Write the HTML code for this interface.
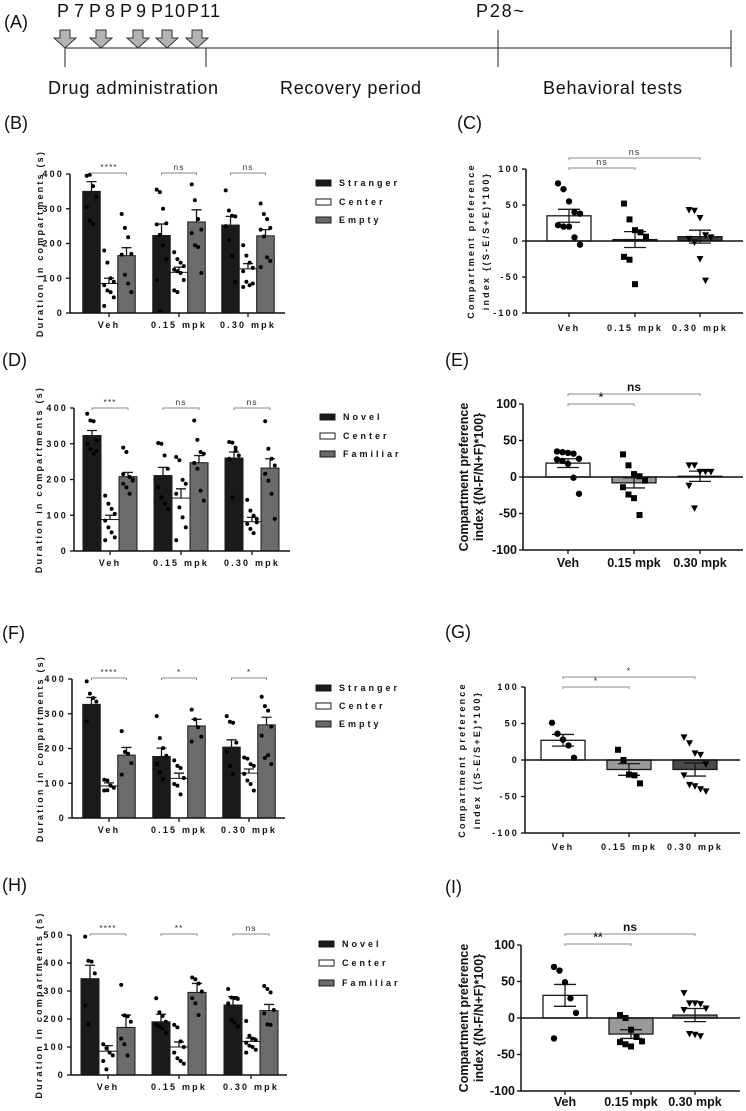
<!DOCTYPE html>
<html><head><meta charset="utf-8">
<style>
html,body{margin:0;padding:0;background:#fff;}
svg{display:block;font-family:"Liberation Sans",Arial,sans-serif;}
.sp{font-weight:bold;font-size:9px;letter-spacing:2.2px;fill:#111;}
.bl{font-weight:bold;font-size:12.5px;fill:#111;}
.pl{font-size:18px;fill:#111;}
.ta{font-family:"Liberation Sans Narrow","Liberation Sans",sans-serif;font-size:18px;fill:#111;}
</style></head>
<body>
<svg id="fig" width="746" height="1111" viewBox="0 0 746 1111" xmlns="http://www.w3.org/2000/svg">
<g>
<text class="pl" x="4" y="28">(A)</text>
<line x1="65" y1="48" x2="731" y2="48" stroke="#222" stroke-width="1"/>
<line x1="65" y1="48" x2="65" y2="67" stroke="#222"/>
<line x1="206" y1="48" x2="206" y2="67" stroke="#222"/>
<line x1="498" y1="30" x2="498" y2="67" stroke="#222"/>
<line x1="731" y1="30" x2="731" y2="67" stroke="#222"/>
<g id="arrows"></g>
<text class="ta" x="57" y="17" textLength="27">P7</text>
<text class="ta" x="89" y="17" textLength="26">P8</text>
<text class="ta" x="120" y="17" textLength="26">P9</text>
<text class="ta" x="151" y="17" textLength="34">P10</text>
<text class="ta" x="187" y="17" textLength="33">P11</text>
<text class="ta" x="476" y="17" textLength="48">P28~</text>
<text class="ta" x="48" y="94" textLength="170">Drug administration</text>
<text class="ta" x="280" y="94" textLength="141">Recovery period</text>
<text class="ta" x="543" y="94" textLength="139">Behavioral tests</text>
</g>
<text class="pl" x="4" y="129">(B)</text>
<text class="pl" x="457" y="129">(C)</text>
<text class="pl" x="2" y="366">(D)</text>
<text class="pl" x="445" y="366">(E)</text>
<text class="pl" x="2" y="639">(F)</text>
<text class="pl" x="445" y="638">(G)</text>
<text class="pl" x="2" y="891">(H)</text>
<text class="pl" x="445" y="893">(I)</text>
</svg>
<script>
// ---------- DATA ----------
const cats = ['Veh', '0.15 mpk', '0.30 mpk'];
const doseDays = ['P7', 'P8', 'P9', 'P10', 'P11'];

const bSeries = ['Stranger', 'Center', 'Empty'];
const bTicks = [0, 100, 200, 300, 400];
const bMeans = [[350, 85, 165], [223, 117, 262], [253, 127, 222]];
const bSems = [[28, 15, 23], [33, 15, 35], [25, 15, 18]];
const bPoints = [
  [[395, 398, 365, 335, 305, 265, 255], [180, 145, 100, 90, 80, 65, 60, 45, 20], [285, 245, 218, 170, 168, 110, 85, 60]],
  [[355, 348, 300, 258, 255, 225, 195, 155, 95, 5], [175, 155, 145, 135, 125, 120, 115, 95, 65, 60], [370, 325, 270, 240, 230, 195, 190, 115]],
  [[353, 295, 280, 278, 250, 210, 165, 90], [195, 165, 145, 130, 120, 90, 80, 85, 75], [315, 285, 270, 245, 240, 220, 160, 150, 132]]
];
const bSig = ['****', 'ns', 'ns'];

const cTicks = [-100, -50, 0, 50, 100];
const cMeans = [35, 2, 6];
const cSems = [9, 11, 9];
const cPoints = [[80, 72, 55, 40, 38, 22, 20, 20, 5, -5], [52, 30, 15, 12, 6, -22, -26, -60], [43, 42, 32, 8, 5, 3, -2, -25, -55]];
const cSig = ['ns', 'ns'];

const dSeries = ['Novel', 'Center', 'Familiar'];
const dTicks = [0, 100, 200, 300, 400];
const dMeans = [[323, 88, 208], [211, 148, 247], [260, 82, 232]];
const dSems = [[14, 12, 12], [23, 26, 20], [17, 12, 26]];
const dPoints = [
  [[384, 365, 363, 310, 300, 285, 272, 280], [155, 132, 118, 104, 85, 66, 52, 38, 30], [289, 277, 207, 197, 188, 178, 160, 200, 215]],
  [[302, 300, 267, 230, 178, 150, 132, 118], [263, 254, 199, 188, 160, 122, 94, 66, 30], [365, 311, 277, 272, 246, 230, 169, 141]],
  [[305, 303, 289, 267, 258, 150, 280], [143, 113, 99, 90, 76, 62, 50, 80], [363, 286, 258, 239, 216, 197, 160, 90]]
];
const dSig = ['***', 'ns', 'ns'];

const eTicks = [-100, -50, 0, 50, 100];
const eMeans = [19, -8, 1];
const eSems = [6, 7, 7];
const ePoints = [[35, 34, 33, 32, 25, 24, 22, 18, -1, -23], [31, 16, 4, 1, -5, -14, -24, -29, -52], [16, 16, 7, 7, 7, -12, -43]];
const eSig = ['*', 'ns'];

const fSeries = ['Stranger', 'Center', 'Empty'];
const fTicks = [0, 100, 200, 300, 400];
const fMeans = [[327, 92, 181], [177, 114, 265], [204, 129, 268]];
const fSems = [[20, 9, 22], [24, 15, 19], [21, 12, 22]];
const fPoints = [
  [[393, 358, 345, 335, 278], [110, 108, 93, 87, 79, 80], [250, 190, 185, 158, 125]],
  [[293, 230, 201, 179, 155, 131, 112], [166, 150, 144, 115, 98, 93, 68], [312, 284, 261, 234, 220]],
  [[293, 277, 274, 217, 191, 150, 127], [174, 171, 155, 150, 127, 108, 98, 79], [349, 322, 309, 263, 237, 173, 181, 155]]
];
const fSig = ['****', '*', '*'];

const gTicks = [-100, -50, 0, 50, 100];
const gMeans = [27, -13, -13];
const gSems = [8, 8, 9];
const gPoints = [[51, 36, 28, 20, 3], [14, 0, -20, -21, -32], [31, 23, 9, 7, -6, -21, -34, -36, -40, -43]];
const gSig = ['*', '*'];

const hSeries = ['Novel', 'Center', 'Familiar'];
const hTicks = [0, 100, 200, 300, 400, 500];
const hMeans = [[344, 85, 170], [190, 100, 295], [250, 120, 230]];
const hSems = [[48, 20, 44], [27, 18, 32], [30, 12, 22]];
const hPoints = [
  [[494, 408, 405, 363, 248, 181], [110, 95, 80, 70, 50, 20], [322, 213, 210, 190, 130, 110, 70]],
  [[274, 224, 211, 190, 180, 173, 165, 150], [179, 170, 120, 100, 80, 60, 50, 40], [348, 342, 327, 298, 274, 256, 214]],
  [[307, 277, 275, 272, 256, 196, 187, 173], [193, 140, 130, 125, 115, 105, 100, 90, 80], [318, 307, 295, 232, 220, 181, 179]]
];
const hSig = ['****', '**', 'ns'];

const iTicks = [-100, -50, 0, 50, 100];
const iMeans = [31, -22, 4];
const iSems = [15, 6, 9];
const iPoints = [[70, 65, 49, 27, 7, -28], [4, 0, -16, -26, -32, -33, -36, -39], [34, 20, 20, 19, 13, 11, -22, -23, -25]];
const iSig = ['**', 'ns'];

// ---------- DRAWING ----------
const NS = 'http://www.w3.org/2000/svg';
const svg = document.getElementById('fig');
function mk(tag, attrs, parent) {
  const e = document.createElementNS(NS, tag);
  for (const k in attrs) e.setAttribute(k, attrs[k]);
  parent.appendChild(e);
  return e;
}

// arrows panel A
const arrowX = [65, 101, 138, 167, 197];
const arrowsG = document.getElementById('arrows');
doseDays.forEach((d, i) => {
  const cx = arrowX[i];
  const p = mk('polygon', {points: `${cx-5},30 ${cx+5},30 ${cx+5},38 ${cx+11},38 ${cx},48 ${cx-11},38 ${cx-5},38`, fill: '#b3b3b3', stroke: '#333', 'stroke-width': 1}, arrowsG);
  
  
});

const fills = ['#1a1a1a', '#ffffff', '#6b6b6b'];

function drawBarPanel(name, geo, series, ticks, means, sems, points, sig) {
  const g = mk('g', {}, svg);
  
  
  const vTop = ticks[ticks.length - 1];
  const y = v => geo.y0 - v * (geo.y0 - geo.yTop) / vTop;
  const bx = (c, s) => geo.cx[c] + (s - 1) * geo.bw;
  // bars
  means.forEach((grp, c) => grp.forEach((m, s) => {
    const r = mk('rect', {x: bx(c, s) - geo.bw / 2, y: y(m), width: geo.bw, height: y(0) - y(m), fill: fills[s], stroke: '#1a1a1a', 'stroke-width': 1}, g);
    
    
    const top = y(m + sems[c][s]);
    const eb = mk('path', {d: `M${bx(c,s)},${y(m)}V${top}M${bx(c,s)-5},${top}H${bx(c,s)+5}`, stroke: '#1a1a1a', 'stroke-width': 1.3, fill: 'none'}, g);
    
    
    points[c][s].forEach((v, i) => {
      const off = ((i % 4) - 1.5) * 3.2;
      const d = mk('circle', {cx: bx(c, s) + off, cy: y(v), r: 2, fill: '#000'}, g);
      
      
    });
  }));
  // axes
  const ya = mk('line', {x1: geo.ax, y1: y(0), x2: geo.ax, y2: y(vTop), stroke: '#111', 'stroke-width': 1.5}, g);
  
  
  const xa = mk('line', {x1: geo.ax, y1: y(0), x2: geo.xEnd, y2: y(0), stroke: '#111', 'stroke-width': 1.5}, g);
  
  
  ticks.forEach(t => {
    mk('line', {x1: geo.ax - 4, y1: y(t), x2: geo.ax, y2: y(t), stroke: '#111', 'stroke-width': 1.3}, g);
    const tl = mk('text', {x: geo.ax - 6, y: y(t) + 3, 'text-anchor': 'end', class: 'sp'}, g);
    tl.textContent = t;
    
    
  });
  cats.forEach((cName, c) => {
    mk('line', {x1: geo.cx[c], y1: y(0), x2: geo.cx[c], y2: y(0) + 4, stroke: '#111', 'stroke-width': 1.3}, g);
    const cl = mk('text', {x: geo.cx[c], y: geo.labY, 'text-anchor': 'middle', class: 'sp'}, g);
    cl.textContent = cName;
    
    
    const x1 = bx(c, 0), x2 = bx(c, 2);
    const br = mk('path', {d: `M${x1},${geo.sigY+2}V${geo.sigY}H${x2}V${geo.sigY+2}`, stroke: '#888', 'stroke-width': 1, fill: 'none'}, g);
    
    
    const st = mk('text', {x: (x1 + x2) / 2, y: geo.sigY - 3, 'text-anchor': 'middle', class: 'sp', style: 'font-weight:normal;font-size:8.5px;letter-spacing:1px;fill:#333'}, g);
    st.textContent = sig[c];
    
    
  });
  const yt = mk('text', {x: 0, y: 0, 'text-anchor': 'middle', class: 'sp', transform: `translate(${geo.titleX},${(y(0) + y(vTop)) / 2}) rotate(-90)`}, g);
  yt.textContent = 'Duration in compartments (s)';
  
  
  series.forEach((sName, s) => {
    const ly = geo.legY[s];
    const lb = mk('rect', {x: geo.legX, y: ly - 3, width: 15, height: 6, fill: fills[s], stroke: '#1a1a1a', 'stroke-width': 1}, g);
    
    
    const lt = mk('text', {x: geo.legX + 23, y: ly + 3, class: 'sp', style: 'letter-spacing:3px'}, g);
    lt.textContent = sName;
    
    
  });
}

const idxFills = ['#ffffff', '#999999', '#5a5a5a'];
function drawIndexPanel(name, geo, ticks, means, sems, points, sig, bold, titleLetters) {
  const g = mk('g', {}, svg);
  
  
  const y = v => geo.y0 - v * (geo.y0 - geo.yTop) / 100;
  const cls = bold ? 'bl' : 'sp';
  means.forEach((m, c) => {
    const cx = geo.cx[c];
    const r = mk('rect', {x: cx - 22, y: Math.min(y(0), y(m)), width: 44, height: Math.abs(y(m) - y(0)), fill: geo.fills[c], stroke: '#1a1a1a', 'stroke-width': 1.3}, g);
    
    
    const hi = y(m + sems[c]), lo = y(m - sems[c]);
    const eb = mk('path', {d: `M${cx},${hi}V${lo}M${cx-11},${hi}H${cx+11}M${cx-11},${lo}H${cx+11}`, stroke: '#1a1a1a', 'stroke-width': 1.3, fill: 'none'}, g);
    
    
    points[c].forEach((v, i) => {
      const px = cx + ((i % 5) - 2) * 5.5, py = y(v);
      let p;
      if (c === 0) p = mk('circle', {cx: px, cy: py, r: 3.2, fill: '#000'}, g);
      else if (c === 1) p = mk('rect', {x: px - 3, y: py - 3, width: 6, height: 6, fill: '#000'}, g);
      else p = mk('polygon', {points: `${px-3.5},${py-3} ${px+3.5},${py-3} ${px},${py+3.5}`, fill: '#000'}, g);
      
      
    });
  });
  const ya = mk('line', {x1: geo.ax, y1: y(-100), x2: geo.ax, y2: y(100), stroke: '#111', 'stroke-width': 1.5}, g);
  
  
  const xa = mk('line', {x1: geo.ax, y1: y(0), x2: geo.xEnd, y2: y(0), stroke: '#111', 'stroke-width': 1.5}, g);
  
  
  const xb = mk('line', {x1: geo.ax, y1: y(-100), x2: geo.xEnd, y2: y(-100), stroke: '#111', 'stroke-width': 1.5}, g);
  
  
  ticks.forEach(t => {
    mk('line', {x1: geo.ax - 4, y1: y(t), x2: geo.ax, y2: y(t), stroke: '#111', 'stroke-width': 1.3}, g);
    const tl = mk('text', {x: geo.ax - 6, y: y(t) + (bold ? 4 : 3), 'text-anchor': 'end', class: cls}, g);
    tl.textContent = t;
    
    
  });
  cats.forEach((cName, c) => {
    mk('line', {x1: geo.cx[c], y1: y(-100), x2: geo.cx[c], y2: y(-100) + 4, stroke: '#111', 'stroke-width': 1.3}, g);
    const cl = mk('text', {x: geo.cx[c], y: geo.labY, 'text-anchor': 'middle', class: cls}, g);
    cl.textContent = cName;
    
    
  });
  [[1, geo.sig1Y], [2, geo.sig2Y]].forEach(([c, sy], k) => {
    const br = mk('path', {d: `M${geo.cx[0]},${sy+2}V${sy}H${geo.cx[c]}V${sy+2}`, stroke: '#888', 'stroke-width': 1, fill: 'none'}, g);
    
    
    const st = mk('text', {x: (geo.cx[0] + geo.cx[c]) / 2, y: sy - 3, 'text-anchor': 'middle', class: cls, style: bold ? 'font-size:12px' : 'font-weight:normal;font-size:9px;letter-spacing:1px;fill:#333'}, g);
    st.textContent = sig[k];
    
    
  });
  const mid = (y(-100) + y(100)) / 2;
  const t1 = mk('text', {x: 0, y: 0, 'text-anchor': 'middle', class: cls, transform: `translate(${geo.t1X},${mid}) rotate(-90)`}, g);
  t1.textContent = 'Compartment preference';
  
  
  const t2 = mk('text', {x: 0, y: 0, 'text-anchor': 'middle', class: cls, transform: `translate(${geo.t2X},${mid}) rotate(-90)`}, g);
  t2.textContent = 'index {(' + titleLetters + ')*100}';
  
  
}

drawBarPanel('panel-b-chart', {ax: 70, xEnd: 285, y0: 313, yTop: 174, cx: [109, 179, 248], bw: 17.5, labY: 328, sigY: 173, titleX: 43, legX: 316, legY: [183, 202, 220]}, bSeries, bTicks, bMeans, bSems, bPoints, bSig);
drawIndexPanel('panel-c-chart', {ax: 526, xEnd: 743, y0: 241, yTop: 169, cx: [569, 635, 700], labY: 331, sig1Y: 168, sig2Y: 158, t1X: 474, t2X: 489, fills: ['#fff', '#222', '#3a3a3a']}, cTicks, cMeans, cSems, cPoints, cSig, false, 'S-E/S+E');
drawBarPanel('panel-d-chart', {ax: 74, xEnd: 290, y0: 551, yTop: 408, cx: [110, 181, 252], bw: 18, labY: 566, sigY: 408, titleX: 42, legX: 320, legY: [417, 436, 454]}, dSeries, dTicks, dMeans, dSems, dPoints, dSig);
drawIndexPanel('panel-e-chart', {ax: 523, xEnd: 743, y0: 477, yTop: 404, cx: [568, 634, 700], labY: 567, sig1Y: 404, sig2Y: 394, t1X: 468, t2X: 483, fills: ['#fff', '#999', '#7a7a7a']}, eTicks, eMeans, eSems, ePoints, eSig, true, 'N-F/N+F');
drawBarPanel('panel-f-chart', {ax: 72, xEnd: 285, y0: 818, yTop: 679, cx: [109, 179, 249], bw: 17.5, labY: 833, sigY: 678, titleX: 43, legX: 316, legY: [688, 706, 724]}, fSeries, fTicks, fMeans, fSems, fPoints, fSig);
drawIndexPanel('panel-g-chart', {ax: 525, xEnd: 740, y0: 760, yTop: 687, cx: [563, 629, 695], labY: 850, sig1Y: 687, sig2Y: 677, t1X: 465, t2X: 480, fills: ['#fff', '#9a9a9a', '#4a4a4a']}, gTicks, gMeans, gSems, gPoints, gSig, false, 'S-E/S+E');
drawBarPanel('panel-h-chart', {ax: 71, xEnd: 287, y0: 1075, yTop: 935, cx: [108, 179, 251], bw: 18, labY: 1090, sigY: 934, titleX: 42, legX: 319, legY: [944, 963, 983]}, hSeries, hTicks, hMeans, hSems, hPoints, hSig);
drawIndexPanel('panel-i-chart', {ax: 521, xEnd: 740, y0: 1018, yTop: 945, cx: [565, 631, 695], labY: 1106, sig1Y: 944, sig2Y: 934, t1X: 468, t2X: 483, fills: ['#fff', '#999', '#8c8c8c']}, iTicks, iMeans, iSems, iPoints, iSig, true, 'N-F/N+F');
</script>
</body></html>
